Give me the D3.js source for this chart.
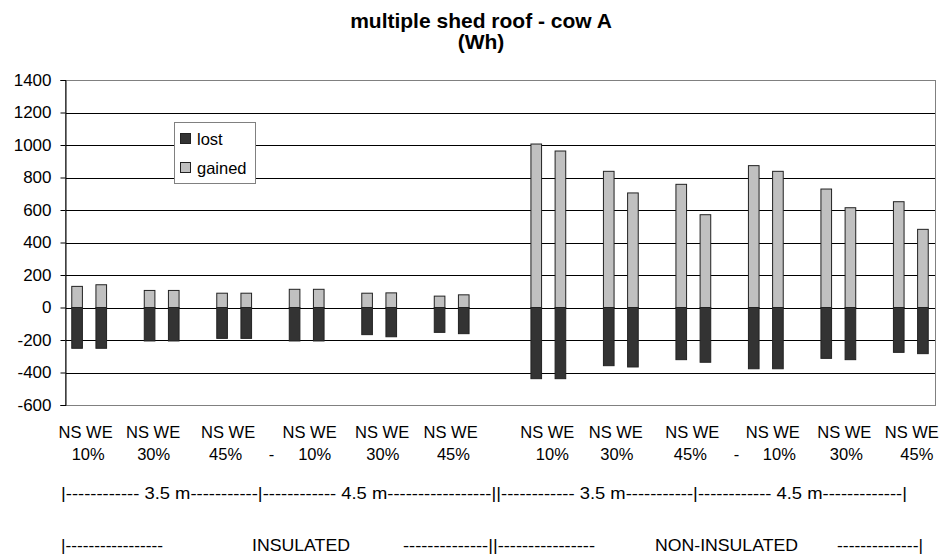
<!DOCTYPE html>
<html>
<head>
<meta charset="utf-8">
<script src="https://cdn.jsdelivr.net/npm/d3@7"></script>
<style>
	body { margin: 0; background: #fff; }
	svg { display: block; font-family: "Liberation Sans", Arial, sans-serif; }
</style>
</head>
<body>
<div class="svg-container"></div>
<script>
(function () {

	"use strict";

	// the data (Wh)
	var slopes = ["10%", "30%", "45%", "10%", "30%", "45%", "10%", "30%", "45%", "10%", "30%", "45%"];
	var orientations = ["NS", "WE"];
	var gained = [130, 140, 105, 105, 88, 88, 112, 112, 88, 90, 70, 78,
		1006, 963, 838, 705, 758, 571, 873, 838, 729, 614, 651, 481];
	var lost = [-251, -251, -206, -206, -190, -190, -206, -206, -167, -180, -153, -161,
		-438, -438, -358, -366, -321, -337, -377, -377, -313, -321, -276, -284];
	var y_ticks = [-600, -400, -200, 0, 200, 400, 600, 800, 1000, 1200, 1400];
	var series = ["lost", "gained"];
	var title = ["multiple shed roof - cow A", "(Wh)"];

	var colors = { "lost": "#333333", "gained": "#c0c0c0" };

	var width = 942, height = 554;
	var plot = { "left": 65, "right": 935, "top": 80, "bottom": 405 };

	// category slots: NS, WE, empty slot; one extra empty slot between the two halves
	var slots = [];
	slopes.forEach(function (s, i) {
		orientations.forEach(function (o) { slots.push(o + i); });
		if (i < slopes.length - 1) slots.push("gap" + i);
		if (i === 5) slots.push("gapmid");
	});

	var bars = [];
	slopes.forEach(function (s, i) {
		orientations.forEach(function (o, j) {
			var k = i * 2 + j;
			bars.push({ "key": o + i, "lost": lost[k], "gained": gained[k] });
		});
	});

	var svg = d3.select(".svg-container").append("svg")
		.attr("width", width)
		.attr("height", height);

	var x = d3.scaleBand()
		.domain(slots)
		.range([plot.left, plot.right])
		.paddingInner(0.56)
		.paddingOuter(0.28);

	var y = d3.scaleLinear()
		.domain([-600, 1400])
		.range([plot.bottom, plot.top]);

	// title
	svg.append("text")
		.attr("x", 481)
		.attr("y", 28)
		.attr("text-anchor", "middle")
		.style("font-weight", "bold")
		.style("font-size", "21px")
		.selectAll("tspan")
		.data(title)
		.enter()
		.append("tspan")
		.attr("x", 481)
		.attr("dy", function (d, i) { return i === 0 ? 0 : 21; })
		.text(function (d) { return d; });

	// gridlines
	svg.append("g")
		.selectAll("line")
		.data(y_ticks.filter(function (d) { return d > -600 && d < 1400; }))
		.enter()
		.append("line")
		.attr("x1", plot.left)
		.attr("x2", plot.right)
		.attr("y1", function (d) { return Math.round(y(d)) + 0.5; })
		.attr("y2", function (d) { return Math.round(y(d)) + 0.5; })
		.attr("stroke", "#000")
		.attr("stroke-width", 1);

	// plot border
	svg.append("rect")
		.attr("x", plot.left + 0.5)
		.attr("y", Math.round(plot.top) + 0.5)
		.attr("width", plot.right - plot.left)
		.attr("height", Math.round(plot.bottom) - Math.round(plot.top))
		.attr("fill", "none")
		.attr("stroke", "#808080")
		.attr("stroke-width", 1);

	// bars
	var bar_g = svg.selectAll(".bar")
		.data(bars)
		.enter()
		.append("g")
		.attr("class", "bar");

	bar_g.append("rect")
		.attr("x", function (d) { return x(d.key); })
		.attr("width", x.bandwidth())
		.attr("y", function (d) { return y(d.gained); })
		.attr("height", function (d) { return y(0) - y(d.gained); })
		.attr("fill", colors.gained)
		.attr("stroke", "#222")
		.attr("stroke-width", 1);

	bar_g.append("rect")
		.attr("x", function (d) { return x(d.key); })
		.attr("width", x.bandwidth())
		.attr("y", y(0))
		.attr("height", function (d) { return y(d.lost) - y(0); })
		.attr("fill", colors.lost)
		.attr("stroke", "#222")
		.attr("stroke-width", 1);

	// y axis (plain hyphen for negatives, as in the original)
	var y_axis = svg.append("g")
		.attr("transform", "translate(" + (plot.left + 0.5) + ",0)")
		.call(d3.axisLeft(y).tickValues(y_ticks).tickSize(5).tickPadding(9)
			.tickFormat(function (d) { return String(d); }));
	y_axis.select(".domain").attr("stroke", "#000");
	y_axis.selectAll(".tick line").attr("stroke", "#000");
	y_axis.selectAll(".tick text")
		.style("font-size", "17px")
		.style("font-family", "'Liberation Sans', Arial, sans-serif")
		.attr("fill", "#000");

	// legend
	var legend = svg.append("g").attr("transform", "translate(174,122)");
	legend.append("rect")
		.attr("x", 0.5).attr("y", 0.5)
		.attr("width", 81).attr("height", 61)
		.attr("fill", "#fff")
		.attr("stroke", "#808080");
	var items = legend.selectAll(".item")
		.data(series)
		.enter()
		.append("g")
		.attr("transform", function (d, i) { return "translate(6," + (17 + i * 29) + ")"; });
	items.append("rect")
		.attr("x", 0.5).attr("y", -5.5)
		.attr("width", 10).attr("height", 10)
		.attr("fill", function (d) { return colors[d]; })
		.attr("stroke", "#222");
	items.append("text")
		.attr("x", 17)
		.attr("y", 6)
		.style("font-size", "16.5px")
		.text(function (d) { return d; });

	// category labels, centred on each NS/WE pair, nudged like the original text
	var orient_nudge = [-3.5, -8.5, -6, 3, 3, -1, -1, -5, -1, 7, 6, 1];
	var slope_nudge = [-1, -8, -8.6, 8, 3.7, 1.8, 4, -4, -3, 13.5, 8, 6];
	function pair_mid(i) {
		return (x("NS" + i) + x("WE" + i) + x.bandwidth()) / 2;
	}

	svg.append("g")
		.selectAll("text")
		.data(slopes)
		.enter()
		.append("text")
		.attr("x", function (d, i) { return pair_mid(i) + orient_nudge[i]; })
		.attr("y", 438)
		.attr("text-anchor", "middle")
		.style("font-size", "16.5px")
		.text(orientations.join(" "));

	svg.append("g")
		.selectAll("text")
		.data(slopes)
		.enter()
		.append("text")
		.attr("x", function (d, i) { return pair_mid(i) + slope_nudge[i]; })
		.attr("y", 460)
		.attr("text-anchor", "middle")
		.style("font-size", "16.5px")
		.text(function (d) { return d; });

	// the dashes between the two roof widths
	svg.append("g")
		.selectAll("text")
		.data([{ "gap": "gap2", "dx": 1 }, { "gap": "gap8", "dx": 7 }])
		.enter()
		.append("text")
		.attr("x", function (d) { return x(d.gap) + x.bandwidth() / 2 + d.dx; })
		.attr("y", 460)
		.attr("text-anchor", "middle")
		.style("font-size", "16.5px")
		.text("-");

	function dashes(n) { return "-".repeat(n); }

	// widths row
	svg.append("text")
		.attr("x", 61)
		.attr("y", 499)
		.attr("textLength", 846)
		.attr("lengthAdjust", "spacingAndGlyphs")
		.style("font-size", "17px")
		.text("|" + dashes(12) + " 3.5 m" + dashes(11) + "|" + dashes(12) + " 4.5 m" + dashes(17) +
			"||" + dashes(12) + " 3.5 m" + dashes(11) + "|" + dashes(12) + " 4.5 m" + dashes(13) + "|");

	// insulation row
	var insulation_row = [
		{ "text": "|" + dashes(17), "x": 61, "len": 102, "anchor": "start" },
		{ "text": "INSULATED", "x": 301, "len": 98, "anchor": "middle" },
		{ "text": dashes(14) + "||" + dashes(16), "x": 403, "len": 192, "anchor": "start" },
		{ "text": "NON-INSULATED", "x": 726.5, "len": 143, "anchor": "middle" },
		{ "text": dashes(14) + "|", "x": 837, "len": 86, "anchor": "start" }
	];
	svg.append("g")
		.selectAll("text")
		.data(insulation_row)
		.enter()
		.append("text")
		.attr("x", function (d) { return d.x; })
		.attr("y", 551)
		.attr("text-anchor", function (d) { return d.anchor; })
		.attr("textLength", function (d) { return d.len; })
		.attr("lengthAdjust", "spacingAndGlyphs")
		.style("font-size", "17px")
		.text(function (d) { return d.text; });

})();
</script>
</body>
</html>
